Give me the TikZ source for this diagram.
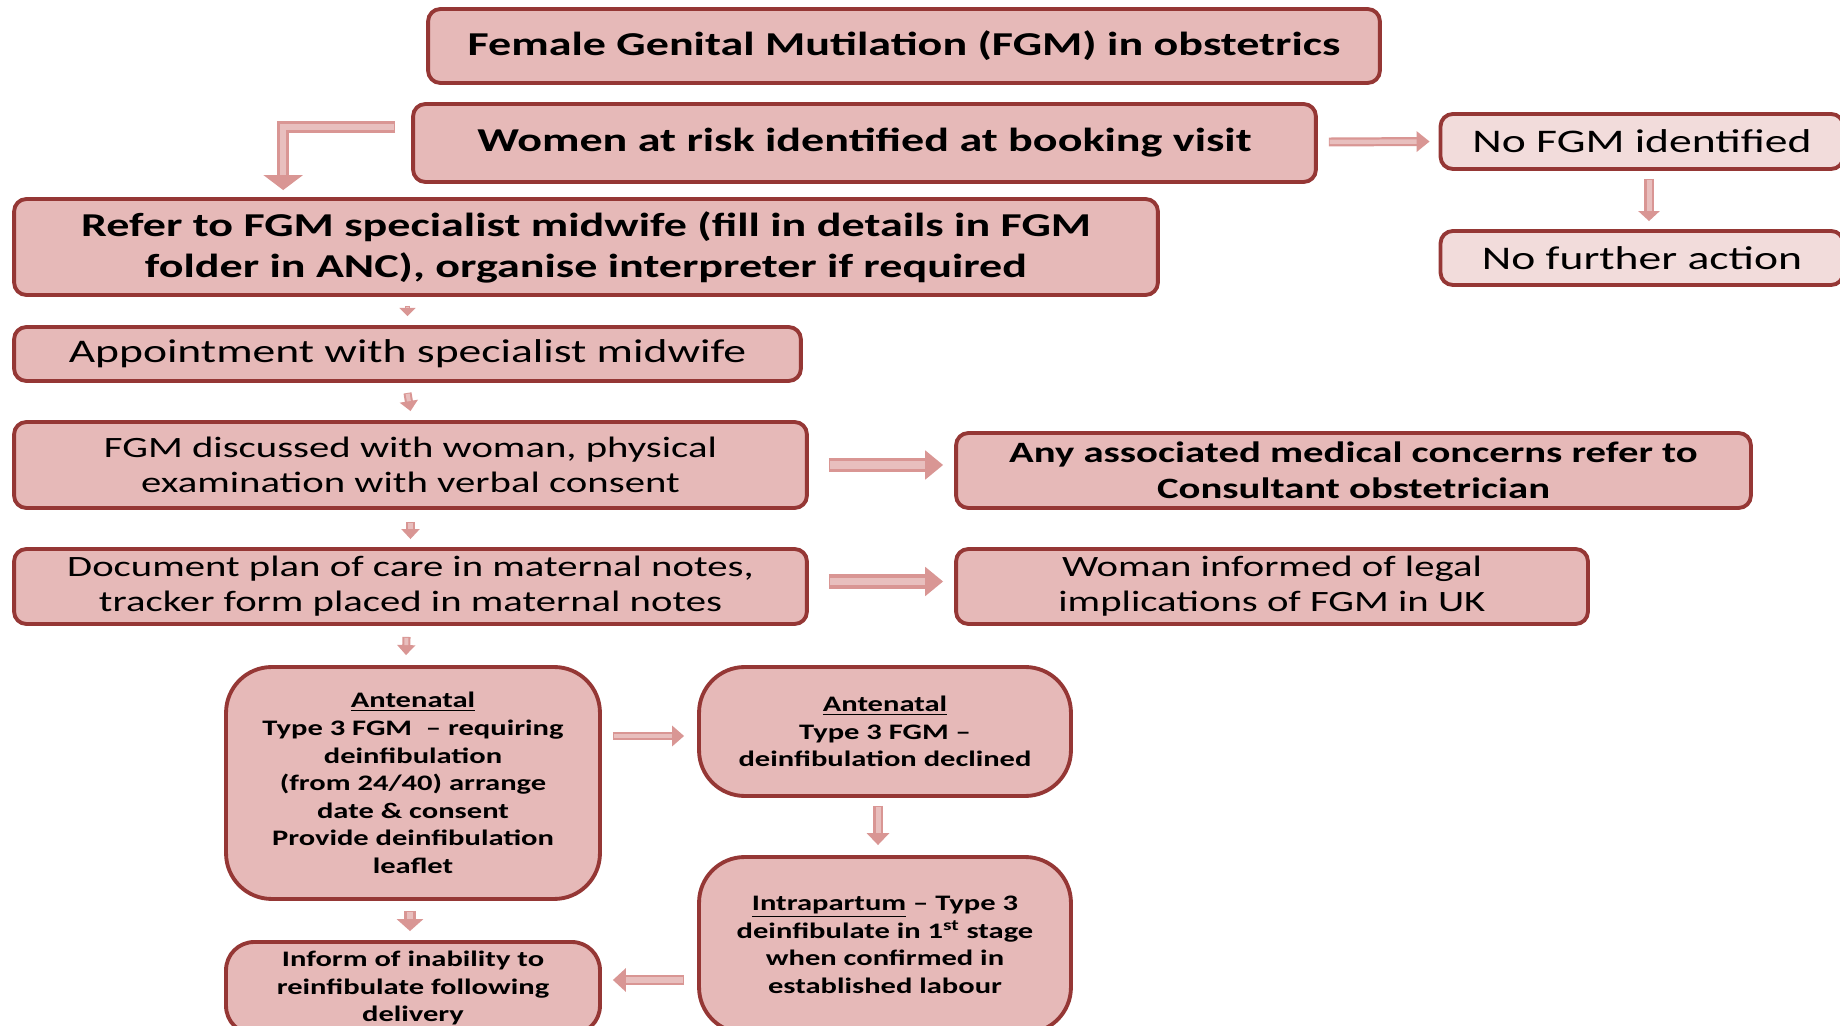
\documentclass[tikz,border=0pt]{standalone}
\usepackage{fontspec}
\setmainfont{Carlito}[FakeStretch=1.38]
\usepackage{xcolor}
\usetikzlibrary{arrows.meta,calc}

\definecolor{boxfill}{HTML}{E6B9B8}
\definecolor{boxedge}{HTML}{953735}
\definecolor{lightfill}{HTML}{F2DCDB}
\definecolor{arrowedge}{HTML}{D99694}
\definecolor{arrowfill}{HTML}{E8BFBE}

% text sizes
\newcommand{\headtext}{\fontsize{19}{23.3}\selectfont\bfseries}
\newcommand{\concerntext}{\fontsize{16.8}{20.5}\selectfont\bfseries}
\newcommand{\steptext}{\fontsize{18.8}{19.9}\selectfont}
\newcommand{\pairtext}{\fontsize{16.8}{19.9}\selectfont}
\newcommand{\smalltext}{\fontsize{12.6}{15.7}\selectfont\bfseries}

\tikzset{
  flowbox/.style={draw=boxedge, fill=boxfill, line width=2.2pt, rounded corners=7pt,
    inner sep=0pt, align=center, text=black},
  lightbox/.style={flowbox, fill=lightfill},
  carebox/.style={flowbox, rounded corners=26pt, font=\smalltext},
  arr/.style n args={3}{draw=arrowedge, line width=#1, -{Triangle[width=#2, length=#3]},
    postaction={draw=arrowfill, line width=0.5*#1, -, shorten >=#3, shorten <=0.5pt}}
}

\begin{document}
\begin{tikzpicture}[x=0.02cm, y=-0.02cm]
  \clip (0,0) rectangle (1840,1026);

  % Top of the pathway
  \node[flowbox, font=\headtext, minimum width=19.04cm, minimum height=1.48cm] (title) at (904,46)
    {Female Genital Mutilation (FGM) in obstetrics};
  \node[flowbox, font=\headtext, minimum width=18.06cm, minimum height=1.56cm] (women) at (864.5,143)
    {Women at risk identified at booking visit};

  % No FGM branch
  \node[lightbox, font=\steptext, minimum width=8.06cm, minimum height=1.1cm] (nofgm) at (1642,141.5)
    {No FGM identified};
  \node[lightbox, font=\steptext, minimum width=8.06cm, minimum height=1.08cm] (nofurther) at (1642,258)
    {No further action};

  % Main column
  \node[flowbox, font=\headtext, minimum width=22.88cm, minimum height=1.92cm] (refer) at (586,247)
    {Refer to FGM specialist midwife (fill in details in FGM\\
     folder in ANC), organise interpreter if required};
  \node[flowbox, font=\steptext, minimum width=15.74cm, minimum height=1.08cm] (appt) at (407.5,354)
    {Appointment with specialist midwife};
  \node[flowbox, font=\pairtext, minimum width=15.86cm, minimum height=1.72cm] (discuss) at (410.5,465)
    {FGM discussed with woman, physical\\ examination with verbal consent};
  \node[flowbox, font=\pairtext, minimum width=15.86cm, minimum height=1.5cm] (document) at (410.5,586.5)
    {Document plan of care in maternal notes,\\ tracker form placed in maternal notes};

  % Side boxes
  \node[flowbox, font=\concerntext, minimum width=15.9cm, minimum height=1.5cm] (concerns) at (1353.5,470.5)
    {Any associated medical concerns refer to\\ Consultant obstetrician};
  \node[flowbox, font=\pairtext, minimum width=12.64cm, minimum height=1.5cm] (legal) at (1272,586.5)
    {Woman informed of legal\\ implications of FGM in UK};

  % Type 3 care
  \node[carebox, minimum width=7.48cm, minimum height=4.64cm] (antedeinf) at (413,783)
    {\underline{Antenatal}\\ Type 3 FGM \ -- requiring\\ deinfibulation\\
     (from 24/40) arrange\\ date \& consent\\ Provide deinfibulation\\ leaflet};
  \node[carebox, minimum width=7.44cm, minimum height=2.58cm] (antedecl) at (885,731.5)
    {\underline{Antenatal}\\ Type 3 FGM --\\ deinfibulation declined};
  \node[carebox, minimum width=7.44cm, minimum height=3.52cm] (intra) at (885,945)
    {\underline{Intrapartum} -- Type 3\\ deinfibulate in 1\textsuperscript{st} stage\\
     when confirmed in\\ established labour};
  \node[carebox, rounded corners=16pt, minimum width=7.48cm, minimum height=1.84cm] (inform) at (413,988)
    {Inform of inability to\\ reinfibulate following\\ delivery};

  % Connectors
  \draw[arr={6.8pt}{22pt}{8.5pt}] ($(women.north west)+(-16,25)$) -| ($(refer.north west)+(271,-7)$);
  \draw[arr={5.1pt}{11.4pt}{7.4pt}] ($(women.east)+(11,-1)$) -- ($(nofgm.west)+(-9,0)$);
  \draw[arr={5.7pt}{12pt}{5.7pt}] ($(nofgm.south)+(7,8)$) -- ($(nofurther.north)+(7,-8)$);
  \draw[arr={3.4pt}{9.1pt}{4.6pt}] ($(appt.north |- refer.south)+(0,9)$) -- ($(appt.north)+(0,-9)$);
  \draw[arr={4.6pt}{10.2pt}{5.7pt}] ($(appt.south)+(0,10)$) -- ($(discuss.north)+(0,-9)$);
  \draw[arr={4.6pt}{10.2pt}{5.7pt}] ($(discuss.south)+(0,12)$) -- ($(document.north)+(0,-8)$);
  \draw[arr={4.6pt}{10.2pt}{5.7pt}] ($(document.south)+(-4,11)$) -- ($(antedeinf.north)+(-7,-10)$);
  \draw[arr={8pt}{16pt}{10.2pt}] ($(discuss.east)+(20,0)$) -- ($(concerns.west |- discuss.east)+(-11,0)$);
  \draw[arr={8pt}{16pt}{10.2pt}] ($(document.east)+(20,-5)$) -- ($(legal.west |- document.east)+(-11,-5)$);
  \draw[arr={5.1pt}{11.4pt}{6.8pt}] ($(antedeinf.east |- 0,736)+(11,0)$) -- ($(antedecl.west |- 0,736)+(-13,0)$);
  \draw[arr={5.7pt}{12.5pt}{6.8pt}] ($(antedecl.south)+(-7,8)$) -- ($(intra.north)+(-7,-10)$);
  \draw[arr={6.8pt}{14.8pt}{6.8pt}] ($(antedeinf.south)+(-3,10)$) -- ($(inform.north)+(-3,-9)$);
  \draw[arr={5.7pt}{13.1pt}{7.4pt}] ($(intra.west |- 0,980)+(-13,0)$) -- ($(inform.east |- 0,980)+(11,0)$);
\end{tikzpicture}
\end{document}
